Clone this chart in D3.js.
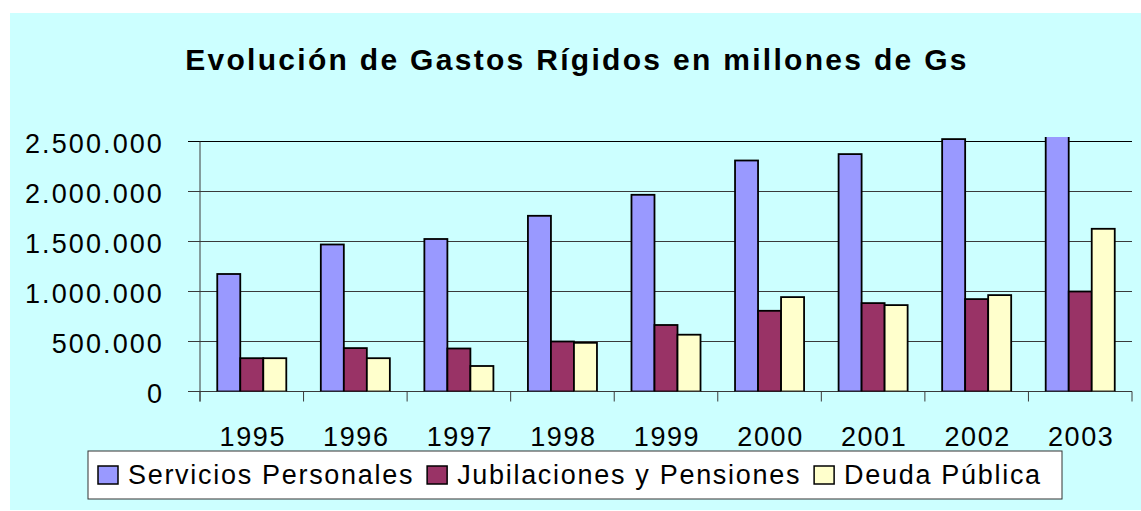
<!DOCTYPE html>
<html>
<head>
<meta charset="utf-8">
<script src="https://cdn.jsdelivr.net/npm/d3@7"></script>
<style>
  body { margin: 0; background: #fff; }
  text { font-family: "Liberation Sans", Arial, sans-serif; fill: #000; }
</style>
</head>
<body>
<svg id="chart" width="1141" height="511"></svg>
<script>
// Chart values
var years = ["1995", "1996", "1997", "1998", "1999", "2000", "2001", "2002", "2003"];
var seriesNames = ["Servicios Personales", "Jubilaciones y Pensiones", "Deuda Pública"];
var servicios = [1175000, 1470000, 1525000, 1757000, 1967000, 2310000, 2374000, 2524000, 2600000];
var jubilaciones = [333000, 434000, 430000, 500000, 665000, 807000, 884000, 924000, 1000000];
var deuda = [333000, 333000, 255000, 487000, 568000, 944000, 864000, 964000, 1627000];
var yTicks = [0, 500000, 1000000, 1500000, 2000000, 2500000];
var colors = ["#9999ff", "#993366", "#ffffcc"];

var svg = d3.select("#chart");

// Cyan chart area
svg.append("rect")
    .attr("x", 10).attr("y", 13)
    .attr("width", 1131).attr("height", 497)
    .attr("fill", "#ccffff");

// Title
svg.append("text")
    .attr("x", 577)
    .attr("y", 70)
    .attr("text-anchor", "middle")
    .style("font-size", "30px")
    .style("font-weight", "bold")
    .style("letter-spacing", "2.3px")
    .text("Evolución de Gastos Rígidos en millones de Gs");

// Scales
var x0 = d3.scaleBand()
    .domain(years)
    .range([200, 1132]);

var x1 = d3.scaleBand()
    .domain(seriesNames)
    .range([0, x0.bandwidth()])
    .paddingOuter(0.75);

var y = d3.scaleLinear()
    .domain([0, 2500000])
    .range([391.5, 141.5]);

var es = d3.formatLocale({decimal: ",", thousands: ".", grouping: [3], currency: ["", ""]});
var fmt = es.format(",");

// Gridlines (also act as the small ticks left of the axis)
svg.append("g").selectAll("line")
    .data(yTicks)
    .join("line")
    .attr("x1", 188).attr("x2", x0.range()[1])
    .attr("y1", d => y(d)).attr("y2", d => y(d))
    .attr("stroke", d => d === 2500000 ? "#000" : "#3a3a3a")
    .attr("stroke-width", 1);

// Y labels
svg.append("g").selectAll("text")
    .data(yTicks)
    .join("text")
    .attr("x", 164)
    .attr("y", d => y(d) + 11)
    .attr("text-anchor", "end")
    .style("font-size", "27px")
    .style("letter-spacing", "2.1px")
    .text(d => fmt(d));

// Clip so that the 2003 bar is cut at the top of the plot area
svg.append("clipPath")
    .attr("id", "plotClip")
    .append("rect")
    .attr("x", x0.range()[0])
    .attr("y", y(2500000) - 4.5)
    .attr("width", x0.range()[1] - x0.range()[0])
    .attr("height", y(0) - y(2500000) + 4.5);

// Bars
var series = [servicios, jubilaciones, deuda];
var groups = svg.append("g")
    .attr("clip-path", "url(#plotClip)")
    .selectAll("g")
    .data(years)
    .join("g")
    .attr("transform", d => "translate(" + x0(d) + ",0)");

groups.selectAll("rect")
    .data((d, i) => seriesNames.map((s, k) => ({name: s, k: k, value: series[k][i]})))
    .join("rect")
    .attr("x", d => x1(d.name))
    .attr("y", d => y(d.value))
    .attr("width", x1.bandwidth())
    .attr("height", d => y(0) - y(d.value))
    .attr("fill", d => colors[d.k])
    .attr("stroke", "#000")
    .attr("stroke-width", 1.8);

// Vertical axis line and category ticks
svg.append("line")
    .attr("x1", 200).attr("x2", 200)
    .attr("y1", y(2500000)).attr("y2", y(0) + 10)
    .attr("stroke", "#3a3a3a");

var bounds = years.map(d => x0(d)).concat([x0.range()[1]]);
svg.append("g").selectAll("line")
    .data(bounds)
    .join("line")
    .attr("x1", d => d).attr("x2", d => d)
    .attr("y1", y(0)).attr("y2", y(0) + 10)
    .attr("stroke", "#3a3a3a");

// Year labels
svg.append("g").selectAll("text")
    .data(years)
    .join("text")
    .attr("x", d => x0(d) + x0.bandwidth() / 2 + 1)
    .attr("y", 446)
    .attr("text-anchor", "middle")
    .style("font-size", "27px")
    .style("letter-spacing", "1.6px")
    .text(d => d);

// Legend
var legend = svg.append("g");
legend.append("rect")
    .attr("x", 88).attr("y", 451)
    .attr("width", 974).attr("height", 48)
    .attr("fill", "#fff")
    .attr("stroke", "#333");

var lx = 98;
seriesNames.forEach(function(name, k) {
    legend.append("rect")
        .attr("x", lx).attr("y", 466)
        .attr("width", 20).attr("height", 18)
        .attr("fill", colors[k])
        .attr("stroke", "#000")
        .attr("stroke-width", 1.5);
    var t = legend.append("text")
        .attr("x", lx + 30)
        .attr("y", 484)
        .style("font-size", "27px")
        .style("letter-spacing", "1.7px")
        .text(name);
    lx += 30 + t.node().getComputedTextLength() + 13;
});
</script>
</body>
</html>
